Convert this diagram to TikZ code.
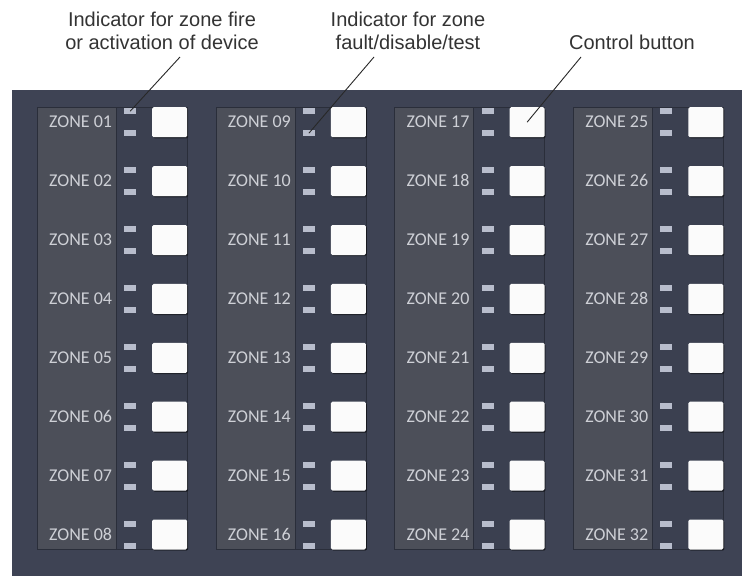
\documentclass[tikz,border=0pt]{standalone}
\usepackage{fontspec}
\setmainfont{Liberation Sans}
\newfontfamily\zonefont{Carlito}
\usepackage{tikz}
\usetikzlibrary{positioning,shadows}
\definecolor{panelbg}{RGB}{62,67,84}
\definecolor{labelbg}{RGB}{76,79,89}
\definecolor{colline}{RGB}{42,46,58}
\definecolor{zonetext}{RGB}{206,208,214}
\definecolor{ledgray}{RGB}{184,189,204}
\definecolor{leadergray}{RGB}{40,40,40}
\tikzset{
  colbox/.style={draw=colline, fill=panelbg!95!black, line width=0.8pt, inner sep=0pt,
                 minimum width=150pt, minimum height=442pt},
  labelbox/.style={draw=colline, fill=labelbg, line width=0.6pt, inner sep=0pt,
                   minimum width=79pt, minimum height=442pt},
  ledbox/.style={draw=none, fill=ledgray, inner sep=0pt, minimum width=12pt, minimum height=6pt},
  buttonbox/.style={draw=none, fill=white!97!gray, rounded corners=1.5pt, inner sep=0pt,
                    minimum width=35pt, minimum height=30pt,
                    drop shadow={shadow xshift=1pt, shadow yshift=-1.2pt, opacity=0.45, fill=black}},
  zonelabel/.style={text=zonetext, inner sep=0pt, font=\zonefont\fontsize{18}{20}\selectfont},
  callout/.style={text=black!80, inner sep=0pt, align=center, font=\fontsize{20}{23}\selectfont},
  leader/.style={draw=leadergray, line width=0.9pt}
}

\begin{document}
\begin{tikzpicture}[x=1pt,y=-1pt]
  \useasboundingbox (0,0) rectangle (742,576);
  % Panel background
  \fill[white] (0,0) rectangle (742,576);
  \fill[panelbg] (12,90) rectangle (742,576);

  % Zone columns
  \foreach \c in {0,...,3}{
    \pgfmathsetmacro\cx{37+178.7*\c}
    \node[colbox, anchor=north west] (col-\c) at (\cx,107) {};
    \node[labelbox, anchor=north west] (lab-\c) at (\cx,107) {};
    \foreach \r in {0,...,7}{
      \pgfmathsetmacro\ry{107+58.9*\r}
      \pgfmathtruncatemacro\zn{8*\c+\r+1}
      \node[ledbox, anchor=north west] (led-\c-\r-a) at (\cx+87,\ry+1) {};
      \node[ledbox, anchor=north west] (led-\c-\r-b) at (\cx+87,\ry+23) {};
      \node[buttonbox, anchor=north west] (btn-\c-\r) at (\cx+115,\ry) {};
      \node[zonelabel, anchor=west] (zone-\c-\r) at (\cx+12,\ry+15)
            {ZONE \ifnum\zn<10 0\fi\zn};
    }
  }

  % Callouts
  \node[callout] (annfire) at (162,31) {Indicator for zone fire\\or activation of device};
  \node[callout] (annfault) at (408,31) {Indicator for zone\\fault/disable/test};
  \node[callout] (annbtn) at (632,42) {Control button};
  \coordinate (tipfire) at (180,57);
  \coordinate (tipfault) at (374,57);
  \coordinate (tipbtn) at (581,57);
  \draw[leader] (tipfire) -- (led-0-0-a.center);
  \draw[leader] (tipfault) -- (led-1-0-b.center);
  \draw[leader] (tipbtn) -- (btn-2-0.center);
\end{tikzpicture}
\end{document}
